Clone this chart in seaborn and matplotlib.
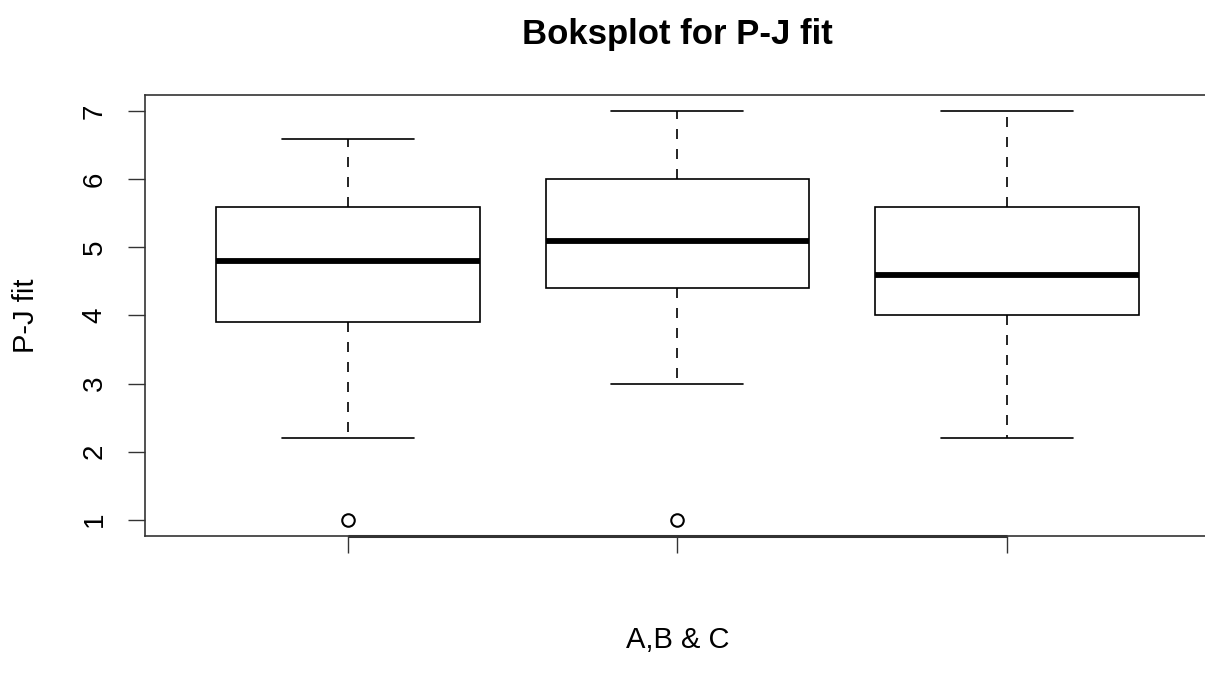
import numpy as np
import pandas as pd
import seaborn as sb
from matplotlib import pyplot as plt

# five-number summaries
groups = ['A', 'B', 'C']
lower_whisker = [2.2, 3.0, 2.2]
q1 = [3.9, 4.4, 4.0]
median = [4.8, 5.1, 4.6]
q3 = [5.6, 6.0, 5.6]
upper_whisker = [6.6, 7.0, 7.0]
outliers = [[1.0], [1.0], []]


def group_values(i):
    # 9 sorted values so that numpy's linear percentiles hit q1/median/q3 exactly
    low = outliers[i][0] if outliers[i] else lower_whisker[i]
    return [low, lower_whisker[i], q1[i], q1[i], median[i],
            q3[i], q3[i], upper_whisker[i], upper_whisker[i]]


rows = []
for i, g in enumerate(groups):
    for v in group_values(i):
        rows.append({'group': g, 'fit': v})
df = pd.DataFrame(rows)

sb.set_style('white')
plt.rcParams['font.family'] = ['Liberation Sans', 'DejaVu Sans']
plt.rcParams['text.color'] = 'black'
plt.rcParams['axes.labelcolor'] = 'black'
plt.rcParams['ytick.color'] = 'black'

fig = plt.figure(figsize=(12.05, 6.75), dpi=100)
ax = fig.add_axes([0.1203, 0.2059, 0.8837, 0.6534])

sb.boxplot(data=df, x='group', y='fit', ax=ax, color='white', linecolor='black',
           linewidth=1.2, width=0.8, whis=1.5,
           whiskerprops={'linestyle': (0, (6, 6))},
           medianprops={'linewidth': 4.2, 'color': 'black'},
           flierprops={'marker': 'o', 'markersize': 9, 'markerfacecolor': 'white',
                       'markeredgecolor': 'black', 'markeredgewidth': 1.5})

# R draws caps at half the box width
for line in ax.lines:
    xd = np.asarray(line.get_xdata(), dtype=float)
    yd = np.asarray(line.get_ydata(), dtype=float)
    if len(xd) == 2 and yd[0] == yd[1] and line.get_linestyle() == '-' and line.get_linewidth() < 3:
        c = xd.mean()
        h = (xd[1] - xd[0]) / 2
        if abs(h) > 0.25:
            line.set_xdata([c - h / 2, c + h / 2])

ax.set_xlim(0.384 - 1, 3.616 - 1)
ax.set_ylim(0.76, 7.24)
ax.set_yticks(range(1, 8))
ax.set_xticks(range(len(groups)))
ax.set_xticklabels([''] * len(groups))
ax.tick_params(axis='both', direction='out', length=12, width=1, color='#333333',
               labelsize=20, left=True, bottom=True, pad=15)
for lab in ax.get_yticklabels():
    lab.set_rotation(90)
    lab.set_va('center')

for s in ax.spines.values():
    s.set_color('#333333')
    s.set_linewidth(1.2)

# R axis line from first to last tick
ax.hlines(0.76, 0, len(groups) - 1, color='#333333', linewidth=2.2, clip_on=False)

ax.set_xlabel('A,B & C', fontsize=21, labelpad=38)
ax.set_ylabel('P-J fit', fontsize=21, labelpad=30)
ax.set_title('Boksplot for P-J fit', fontsize=25, fontweight='bold', pad=37)

plt.savefig('out.png', dpi=100)
